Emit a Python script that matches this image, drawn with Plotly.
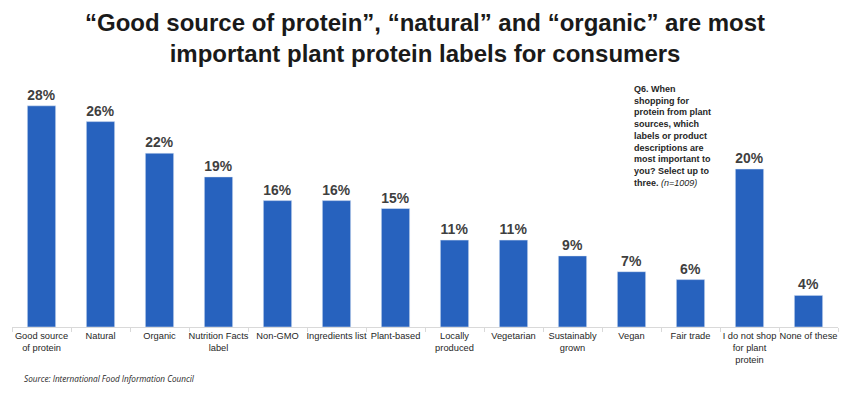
import plotly.graph_objects as go

categories = ["Good source<br>of protein", "Natural", "Organic", "Nutrition Facts<br>label",
              "Non-GMO", "Ingredients list", "Plant-based", "Locally<br>produced",
              "Vegetarian", "Sustainably<br>grown", "Vegan", "Fair trade",
              "I do not shop<br>for plant<br>protein", "None of these"]
values = [28, 26, 22, 19, 16, 16, 15, 11, 11, 9, 7, 6, 20, 4]
value_labels = [f"{v}%" for v in values]

title_text = "“Good source of protein”, “natural” and “organic” are most<br>important plant protein labels for consumers"
note_text = ("<b>Q6. When<br>shopping for<br>protein from plant<br>sources, which<br>labels or product<br>"
             "descriptions are<br>most important to<br>you? Select up to<br>three.</b> <i>(n=1009)</i>")
source_text = "<i>Source: International Food Information Council</i>"

fig = go.Figure(go.Bar(
    x=categories, y=values, text=value_labels, textposition="outside",
    textfont=dict(family="Liberation Sans", size=14, color="#3f3f3f", weight="bold"),
    marker=dict(color="#2762BE"), width=0.48, cliponaxis=False,
))

fig.update_layout(
    width=844, height=393,
    margin=dict(l=12, r=6, t=90, b=66, autoexpand=False),
    plot_bgcolor="white", paper_bgcolor="white",
    showlegend=False,
    bargap=0.5,
    xaxis=dict(showline=True, linecolor="#d9d9d9", linewidth=1, ticks="outside",
               tickson="boundaries", ticklen=4, tickcolor="#d9d9d9", automargin=False,
               tickfont=dict(family="Liberation Sans", size=9.3, color="#262626"),
               tickangle=0),
    yaxis=dict(visible=False, range=[0, 30], automargin=False),
    annotations=[
        dict(text=title_text, xref="paper", yref="paper", x=0.5, y=1.35, xanchor="center", yanchor="top",
             showarrow=False, align="center",
             font=dict(family="Liberation Sans", size=24, color="#1a1a1a", weight="bold")),
        dict(text=note_text, xref="paper", yref="paper", x=0.751, y=1.035, xanchor="left", yanchor="top",
             align="left", showarrow=False,
             font=dict(family="Liberation Sans", size=9, color="#262626")),
        dict(text=source_text, xref="paper", yref="paper", x=0.012, y=-0.185, xanchor="left", yanchor="top",
             showarrow=False, align="left",
             font=dict(family="Open Sans", size=8.2, color="#262626")),
    ],
)

fig.write_html("out.html", config={"displayModeBar": False},
               post_script="document.body.style.margin='0';")
